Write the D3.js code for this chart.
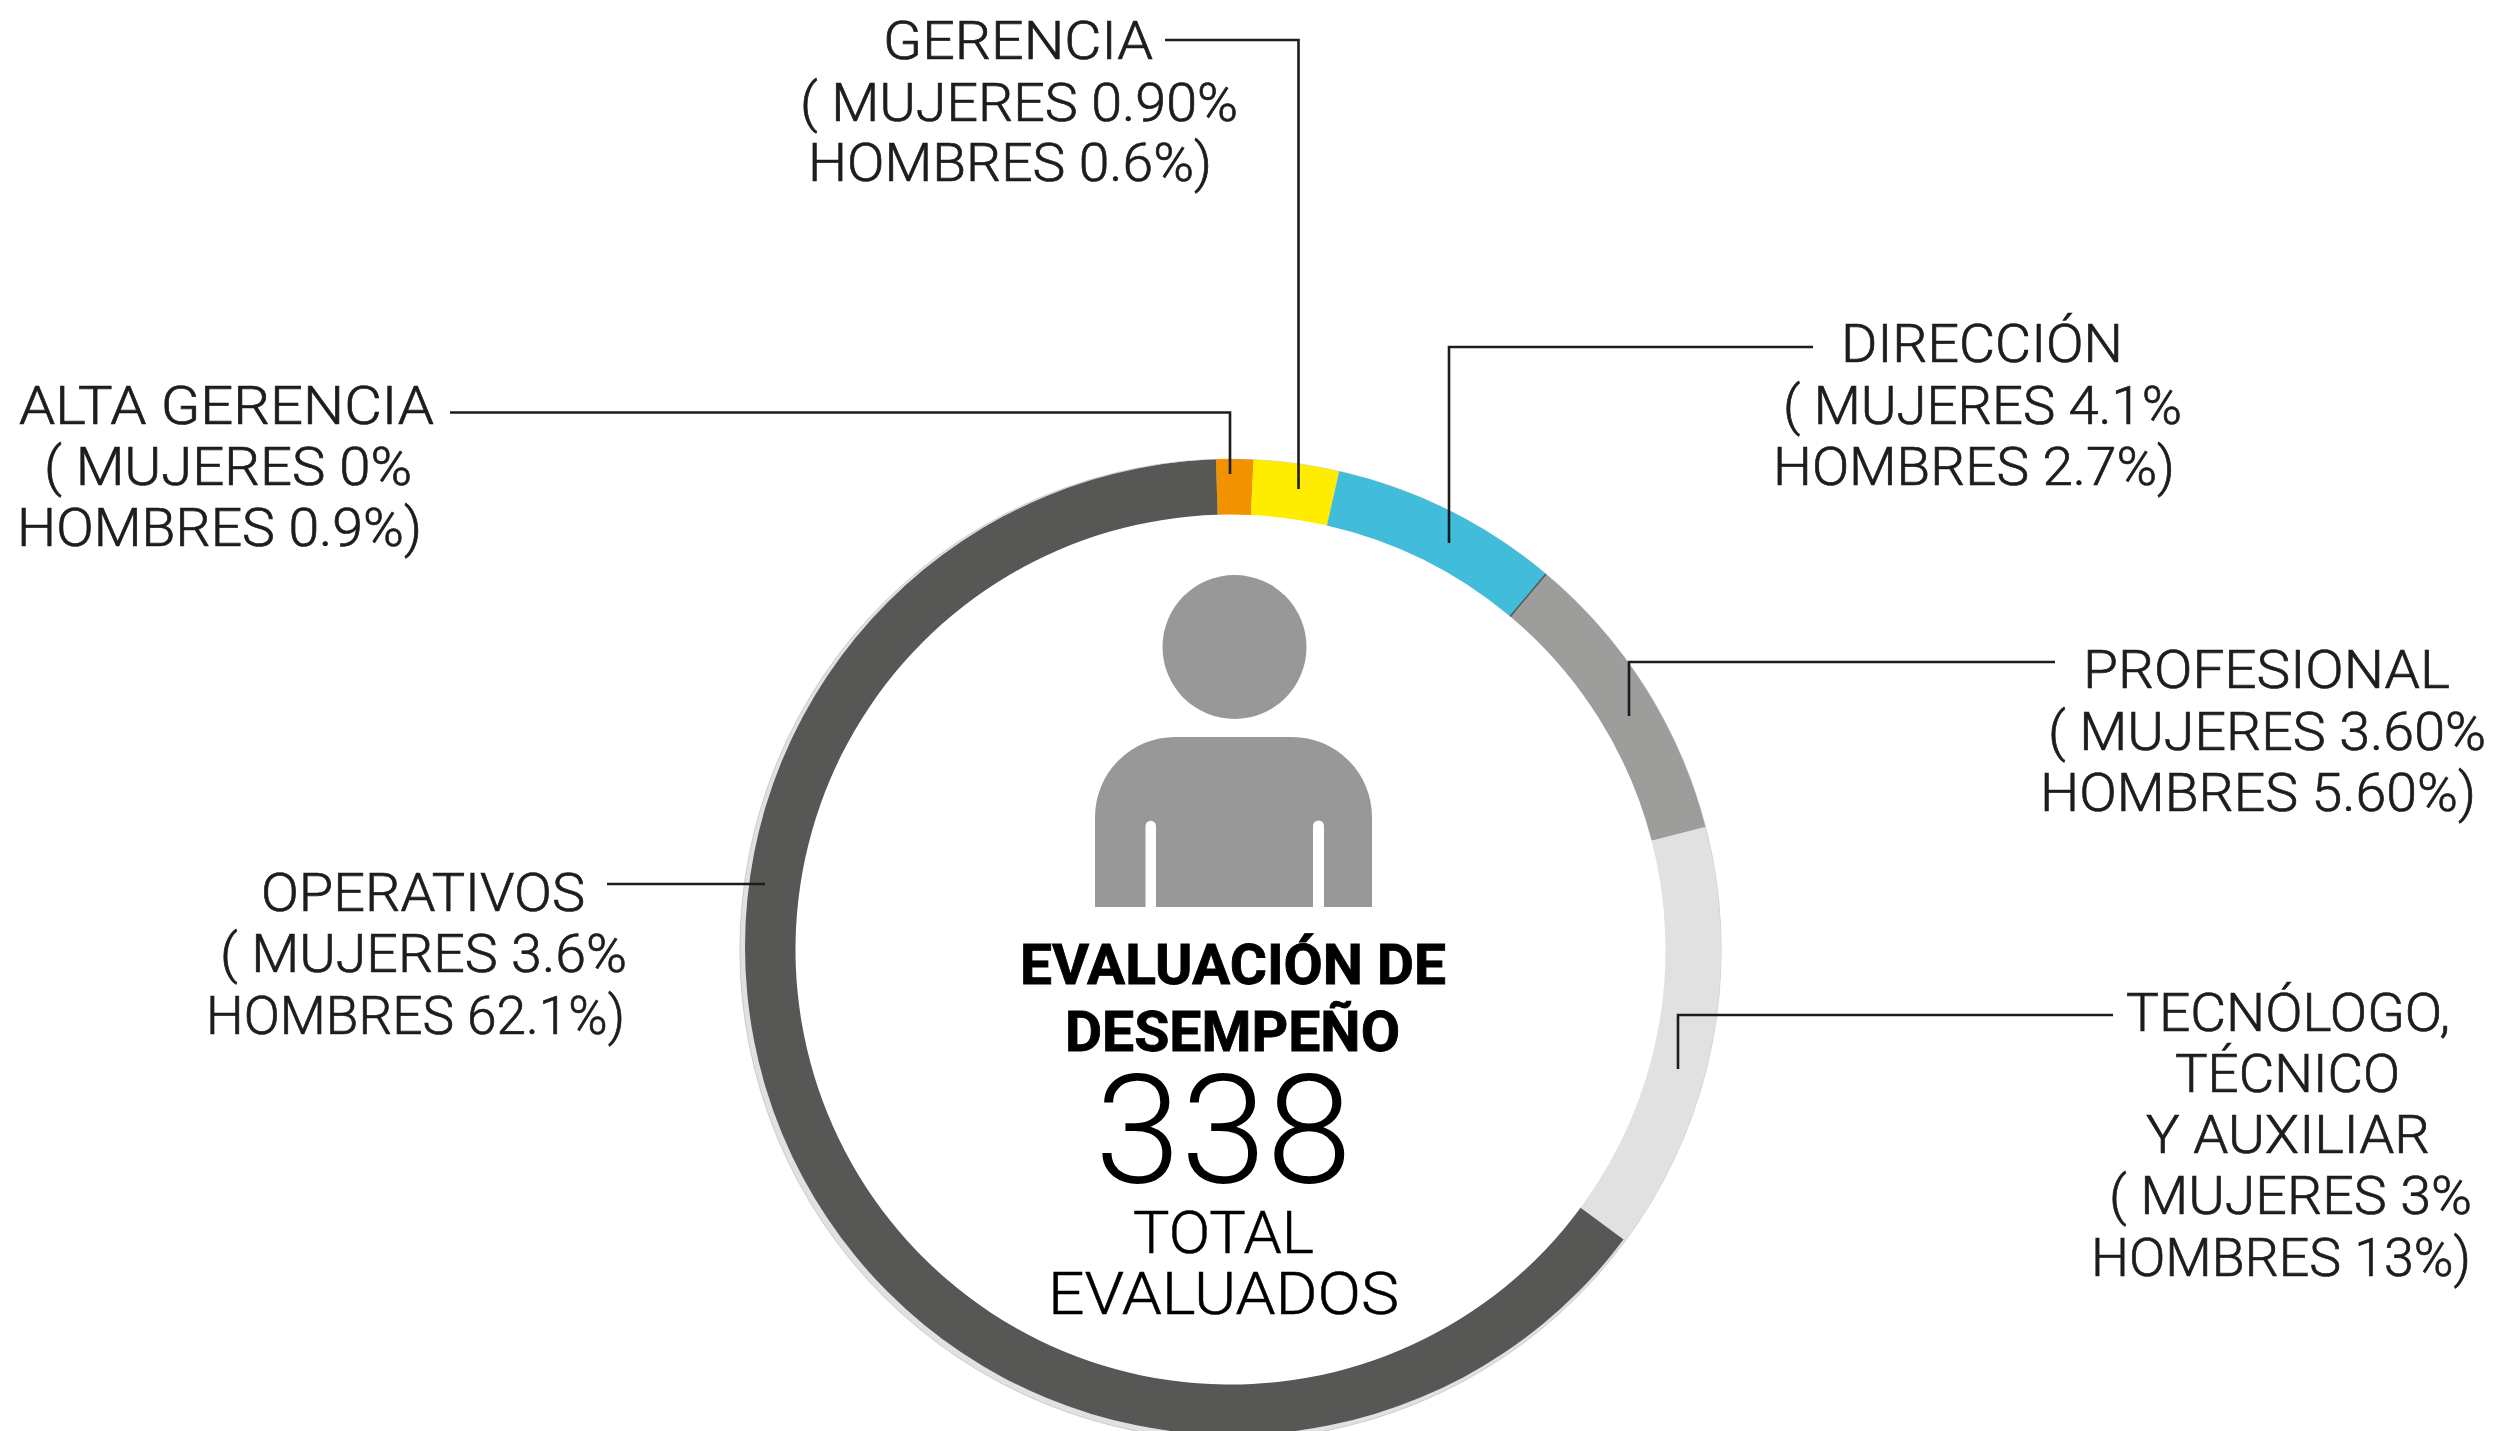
<!DOCTYPE html>
<html lang="es">
<head>
<meta charset="utf-8">
<title>Evaluación de desempeño</title>
<script src="https://cdn.jsdelivr.net/npm/d3@7/dist/d3.min.js"></script>
<style>
html,body{margin:0;padding:0;background:#fff;overflow:hidden}
svg{display:block}
text{font-family:Roboto,"Liberation Sans",sans-serif}
</style>
</head>
<body>
<svg id="chart" width="2518" height="1431" viewBox="0 0 2518 1431"></svg>
<script>
// ---- Data ----
const categories = ["ALTA GERENCIA","GERENCIA","DIRECCIÓN","PROFESIONAL","TECNÓLOGO, TÉCNICO Y AUXILIAR","OPERATIVOS"];
// share of the ring each segment takes, as drawn (percent)
const ringShare = [1.22, 2.81, 7.56, 9.86, 14.14, 64.42];
const segmentColors = ["#f39200","#ffed00","#41bcda","#9d9d9c","#e1e1e1","#575756"];
const labelLines = [
  ["ALTA GERENCIA","( MUJERES 0%","HOMBRES 0.9%)"],
  ["GERENCIA","( MUJERES 0.90%","HOMBRES 0.6%)"],
  ["DIRECCIÓN","( MUJERES 4.1%","HOMBRES 2.7%)"],
  ["PROFESIONAL","( MUJERES 3.60%","HOMBRES 5.60%)"],
  ["TECNÓLOGO,","TÉCNICO","Y AUXILIAR","( MUJERES 3%","HOMBRES 13%)"],
  ["OPERATIVOS","( MUJERES 3.6%","HOMBRES 62.1%)"]
];
const centerTitle = ["EVALUACIÓN DE","DESEMPEÑO"];
const centerTotal = "338";
const centerCaption = ["TOTAL","EVALUADOS"];

// ---- Layout (not data) ----
const cx = 1230.5, cy = 949.6, outerR = 490.5, innerR = 435;
const startDeg = -1.7;
// the dark segment's outer edge sits on a slightly smaller, offset circle
const darkClip = {cx: 1233, cy: 947, r: 488};
const bearing = [4, 3];
// [left, right, baseline] of every label line
const labelBoxes = [
  [[23,431,424],[48,409,485],[21,419,546]],
  [[887,1150,59],[804,1235,121],[812,1209,181]],
  [[1845,2120,362],[1787,2179,424],[1777,2172,485]],
  [[2087,2447,688],[2052,2483,750],[2044,2473,811]],
  [[2130,2447,1031],[2179,2397,1092],[2150,2427,1153],[2113,2469,1214],[2095,2468,1276]],
  [[265,582,911],[224,624,972],[210,622,1034]]
];
const leaders = [
  [[450,412.5],[1230,412.5],[1230,474]],
  [[1165,40],[1298.5,40],[1298.5,489]],
  [[1813,347],[1449,347],[1449,543]],
  [[2055,662],[1629,662],[1629,716]],
  [[2113,1015],[1678,1015],[1678,1069]],
  [[607,884],[765,884]]
];

const svg = d3.select("#chart");
svg.append("clipPath").attr("id", "dark-edge").append("circle")
  .attr("cx", darkClip.cx).attr("cy", darkClip.cy).attr("r", darkClip.r);

// backing ring, visible as a pale band around the dark segment
svg.append("path")
  .attr("transform", `translate(${cx},${cy})`)
  .attr("d", d3.arc()({innerRadius:innerR+4, outerRadius:outerR, startAngle:0, endAngle:2*Math.PI}))
  .attr("fill", "#e1e1e1").attr("stroke", "#b5b5b5").attr("stroke-width", 0.6);

// ring
const pie = d3.pie().sort(null).value(d => d)
  .startAngle(startDeg*Math.PI/180)
  .endAngle((startDeg+360)*Math.PI/180);
const arcGen = d3.arc().innerRadius(innerR).outerRadius(outerR);
const arcs = pie(ringShare);
const darkIndex = ringShare.length - 1;
const ringG = svg.append("g");
ringG.selectAll("path").data(arcs).join("path")
  .attr("transform", `translate(${cx},${cy})`)
  .attr("d", arcGen)
  .attr("fill", (d,i) => segmentColors[i]);
// dark segment: same arc, cut by the offset circle (wrapper keeps the clip in page coordinates)
const darkPath = ringG.selectAll("path").filter((d,i) => i === darkIndex);
const darkWrap = ringG.append("g").attr("clip-path", "url(#dark-edge)");
darkWrap.node().appendChild(darkPath.node());

// thin seam between DIRECCIÓN and PROFESIONAL
const seam = arcs[2].endAngle;
svg.append("line")
  .attr("x1", cx+innerR*Math.sin(seam)).attr("y1", cy-innerR*Math.cos(seam))
  .attr("x2", cx+outerR*Math.sin(seam)).attr("y2", cy-outerR*Math.cos(seam))
  .attr("stroke", "#575756").attr("stroke-width", 1.5);

// person icon
const icon = svg.append("g").attr("fill", "#989898");
icon.append("circle").attr("cx", 1234.5).attr("cy", 647).attr("r", 72);
const body = d3.path();
const bl = 1095, br = 1372, bt = 737, bb = 907, cr = 80;
const slots = [[1145.5,1156],[1313,1324]], slotTop = 826;
body.moveTo(bl, bb);
body.lineTo(bl, bt+cr);
body.arc(bl+cr, bt+cr, cr, Math.PI, 1.5*Math.PI);
body.lineTo(br-cr, bt);
body.arc(br-cr, bt+cr, cr, 1.5*Math.PI, 2*Math.PI);
body.lineTo(br, bb);
[...slots].reverse().forEach(([a,b]) => {
  body.lineTo(b, bb);
  body.lineTo(b, slotTop);
  body.arc((a+b)/2, slotTop, (b-a)/2, 0, Math.PI, true);
  body.lineTo(a, bb);
});
body.closePath();
icon.append("path").attr("d", body.toString());

// leader lines
const lineGen = d3.line();
svg.append("g").selectAll("path").data(leaders).join("path")
  .attr("d", d => lineGen(d))
  .attr("fill", "none").attr("stroke", "#1d1d1b").attr("stroke-width", 2.6);

// labels
function fitted(sel, str, x0, x1, y, size, weight, fill, thicken) {
  sel.append("text")
    .attr("x", x0).attr("y", y)
    .attr("textLength", x1-x0).attr("lengthAdjust", "spacingAndGlyphs")
    .attr("font-size", size).attr("font-weight", weight)
    .attr("fill", fill)
    .attr("stroke", thicken ? fill : "none").attr("stroke-width", thicken || 0)
    .text(str);
}
const labelG = svg.append("g");
labelLines.forEach((lines, i) => {
  lines.forEach((str, j) => {
    const [x0,x1,y] = labelBoxes[i][j];
    fitted(labelG, str, x0-bearing[0], x1+bearing[1], y, 54, 300, "#1d1d1b", 0.7);
  });
});

// centre text
const centerG = svg.append("g");
fitted(centerG, centerTitle[0], 1020, 1446, 984, 55, 700, "#000", 0.8);
fitted(centerG, centerTitle[1], 1065, 1400, 1051, 55, 700, "#000", 0.8);
fitted(centerG, centerTotal, 1095, 1352, 1183, 152, 300, "#000", 0);
fitted(centerG, centerCaption[0], 1133, 1314, 1253, 60, 300, "#000", 0.5);
fitted(centerG, centerCaption[1], 1048, 1399, 1314, 60, 300, "#000", 0.5);
</script>
</body>
</html>
